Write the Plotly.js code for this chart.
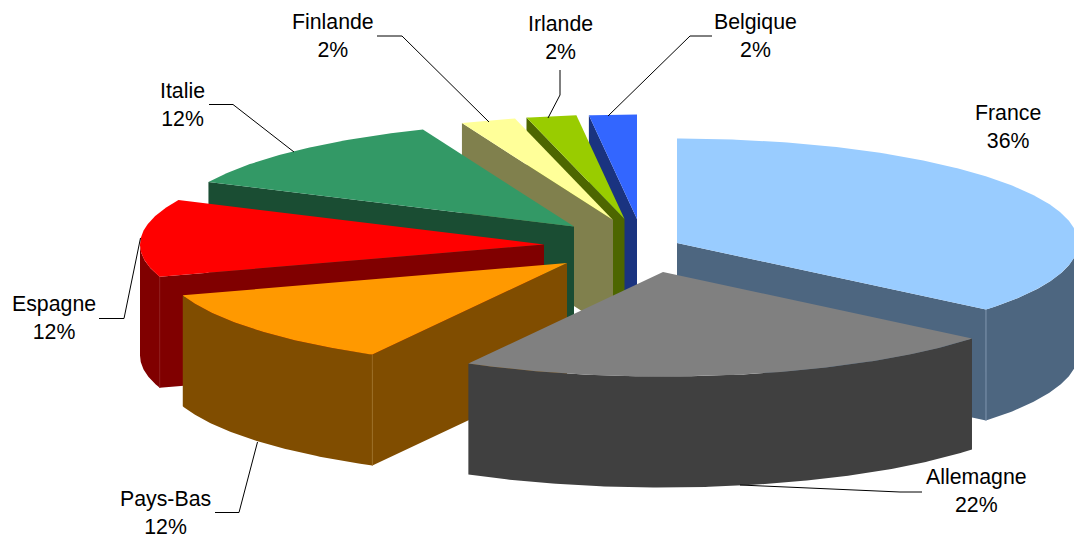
<!DOCTYPE html>
<html>
<head>
<meta charset="utf-8">
<script src="https://cdn.plot.ly/plotly-3.0.1.min.js"></script>
<style>html,body{margin:0;padding:0;background:#fff}#chart{width:1074px;height:536px}</style>
</head>
<body>
<div id="chart"></div>
<script>
// --- data ---
const categories = ['France','Allemagne','Pays-Bas','Espagne','Italie','Finlande','Irlande','Belgique'];
const values = [36,22,12,12,11.9,2.2,2,1.9];

// --- style ---
const topColors  = ['#99CCFF','#808080','#FF9900','#FF0000','#339966','#FFFF99','#99CC00','#3366FF'];
const wallColors = ['#4D6680','#404040','#804D00','#800000','#1A4D33','#80804D','#4D6600','#1A3380'];
const seamColors = ['#7F95AE',null,'#9A6C22','#8C1414',null,null,null,null];

// --- pie geometry (exploded slice hubs, in page pixels) ---
const hubX = [677,663,567,544,574,613,624.5,637];
const hubY = [243,272,263,244.5,226.5,220,219,219];
const radiusXRight = 401, radiusXLeft = 404, radiusY = 104.5, depth = 111;
const paintOrder = [7,6,5,4,3,0,2,1];

// --- labels ---
const labelX = [1007.5,976.5,165,54,182.5,333,560.5,755.5];
const labelY = [127,490.5,512.5,317.5,104.5,35.5,37.5,35.5];
const leaderX = [[],[740,900,922],[215,239,257.5],[99,124,140.5],[209,233,294],[377,402,489],[560,560,548],[712,690,608]];
const leaderY = [[],[485,492,492],[512.5,512.5,442],[318.5,318.5,238],[104.5,104.5,152],[36,36,122],[70,95,118],[36,36,116]];

const total = values.reduce((a,b)=>a+b,0);
const rad = d => d*Math.PI/180;
function rim(i,deg,dz){
  const s=Math.sin(rad(deg));
  return [hubX[i]+(s<0?radiusXLeft:radiusXRight)*s, hubY[i]-radiusY*Math.cos(rad(deg))+(dz||0)];
}
function arc(i,a,b,dz){
  const n = Math.max(2,Math.ceil(Math.abs(b-a)*2)), pts=[];
  for(let k=0;k<=n;k++) pts.push(rim(i,a+(b-a)*k/n,dz));
  return pts;
}
function poly(pts,color,name){
  const xs=pts.map(p=>p[0]).concat(pts[0][0]), ys=pts.map(p=>p[1]).concat(pts[0][1]);
  return {type:'scatter',mode:'lines',x:xs,y:ys,fill:'toself',fillcolor:color,
          line:{width:0,color:color},name:name,hoverinfo:'name',showlegend:false};
}

const starts=[], ends=[]; let acc=0;
values.forEach(v=>{starts.push(acc); acc+=v/total*360; ends.push(acc);});

const traces=[];
paintOrder.forEach(i=>{
  const a=starts[i], b=ends[i], name=categories[i];
  const hub=[hubX[i],hubY[i]], hubLow=[hubX[i],hubY[i]+depth];
  const sinA=Math.sin(rad(a)), sinB=Math.sin(rad(b));
  if(sinA<-1e-6) traces.push(poly([hub,rim(i,a),rim(i,a,depth),hubLow],wallColors[i],name));
  if(sinB>1e-6)  traces.push(poly([hub,rim(i,b),rim(i,b,depth),hubLow],wallColors[i],name));
  const wa=Math.max(a,90), wb=Math.min(b,270);
  if(wb>wa){
    traces.push(poly(arc(i,wa,wb,0).concat(arc(i,wb,wa,depth)),wallColors[i],name));
  }
  if(seamColors[i]){
    const d = sinB>1e-6 ? b : a;
    const p=rim(i,d), q=rim(i,d,depth);
    traces.push({type:'scatter',mode:'lines',x:[p[0],q[0]],y:[p[1],q[1]],
      line:{width:1,color:seamColors[i]},hoverinfo:'skip',showlegend:false});
  }
  traces.push(poly([hub].concat(arc(i,a,b,0)),topColors[i],name));
});

categories.forEach((c,i)=>{
  if(leaderX[i].length) traces.push({type:'scatter',mode:'lines',x:leaderX[i],y:leaderY[i],
    line:{width:1,color:'#000'},hoverinfo:'skip',showlegend:false});
});

const annotations = categories.map((c,i)=>({
  x:labelX[i],y:labelY[i],xref:'x',yref:'y',showarrow:false,xanchor:'center',yanchor:'middle',
  align:'center',text:c+'<br>'+Math.round(values[i]/total*100)+'%',
  font:{family:'Liberation Sans, Arial, sans-serif',size:21.3,color:'#000'}
}));

Plotly.newPlot('chart',traces,{
  width:1074,height:536,margin:{l:0,r:0,t:0,b:0,pad:0},
  paper_bgcolor:'#fff',plot_bgcolor:'#fff',showlegend:false,hovermode:'closest',
  xaxis:{range:[0,1074],visible:false,fixedrange:true},
  yaxis:{range:[536,0],visible:false,fixedrange:true},
  annotations:annotations
},{displayModeBar:false,staticPlot:false});
</script>
</body>
</html>
